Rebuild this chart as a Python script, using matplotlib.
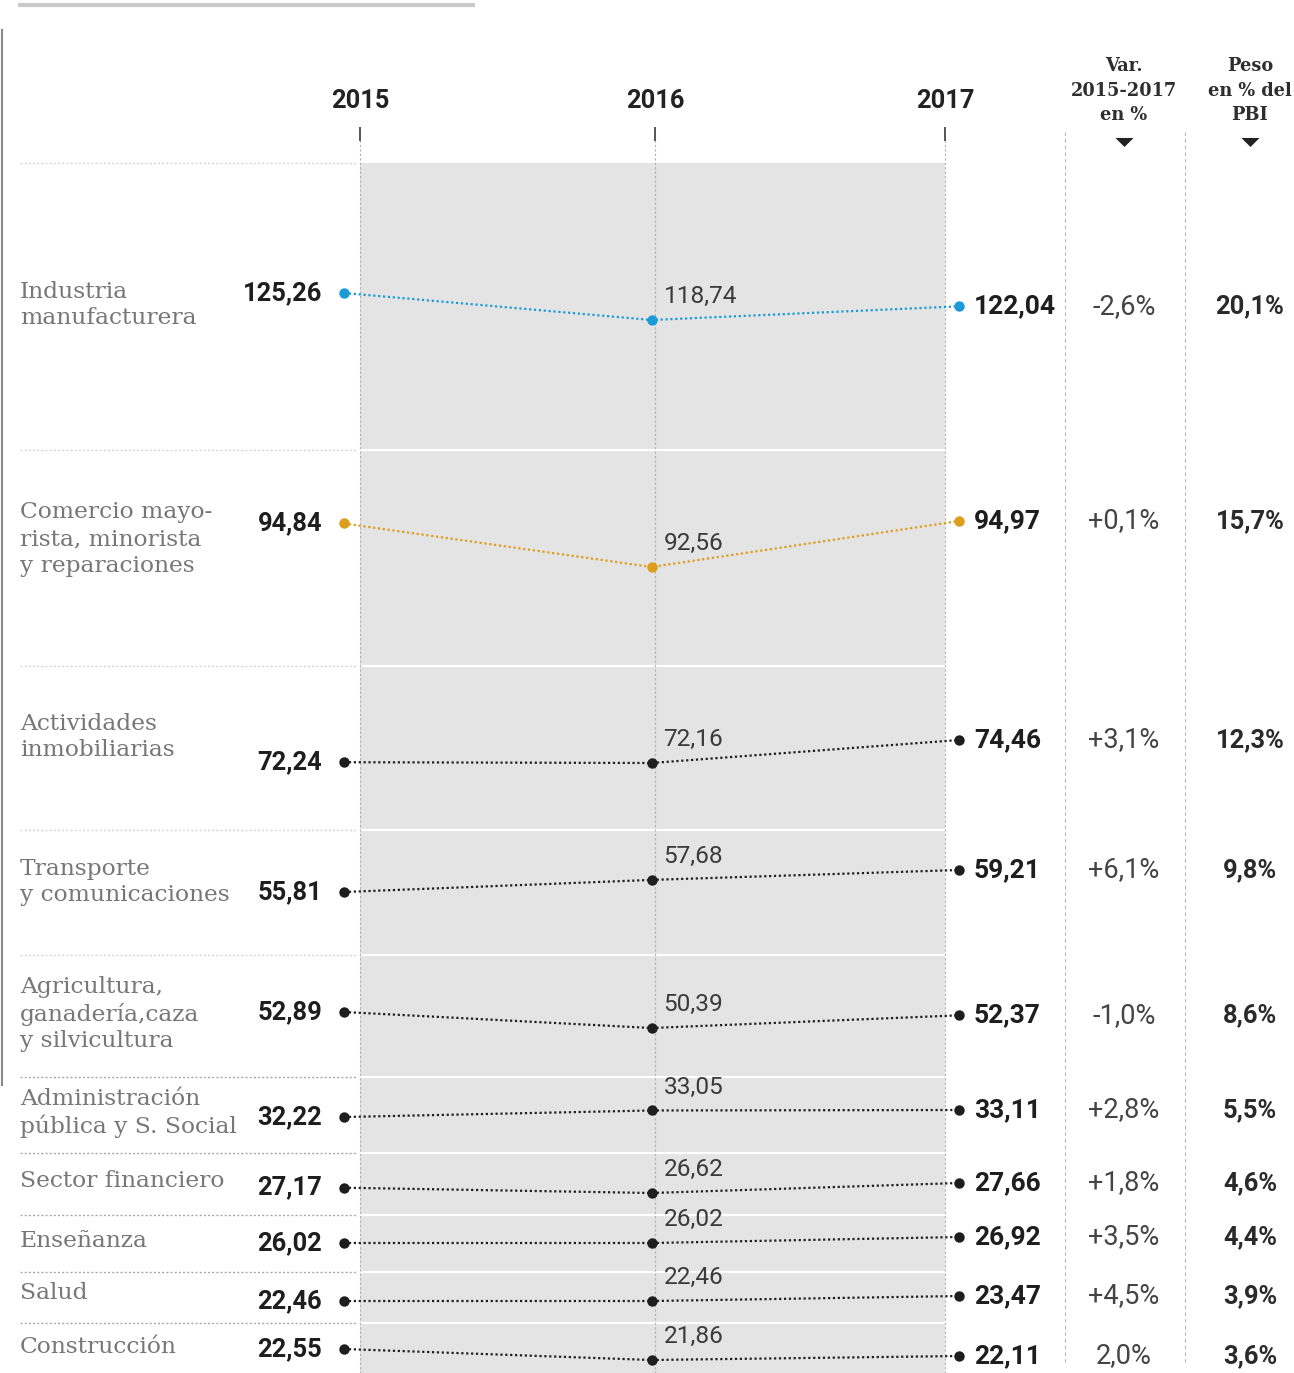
import matplotlib

matplotlib.use("Agg")
import matplotlib.pyplot as plt
from matplotlib.patches import Rectangle
from matplotlib.transforms import blended_transform_factory

# ---------------------------------------------------------------------------
# Data
# ---------------------------------------------------------------------------

years = ["2015", "2016", "2017"]

sectors = [
    "Industria\nmanufacturera",
    "Comercio mayo-\nrista, minorista\ny reparaciones",
    "Actividades\ninmobiliarias",
    "Transporte\ny comunicaciones",
    "Agricultura,\nganadería,caza\ny silvicultura",
    "Administración\npública y S. Social",
    "Sector financiero",
    "Enseñanza",
    "Salud",
    "Construcción",
]

v2015 = [125.26, 94.84, 72.24, 55.81, 52.89, 32.22, 27.17, 26.02, 22.46, 22.55]
v2016 = [118.74, 92.56, 72.16, 57.68, 50.39, 33.05, 26.62, 26.02, 22.46, 21.86]
v2017 = [122.04, 94.97, 74.46, 59.21, 52.37, 33.11, 27.66, 26.92, 23.47, 22.11]

var_pct = ["-2,6%", "+0,1%", "+3,1%", "+6,1%", "-1,0%", "+2,8%", "+1,8%", "+3,5%", "+4,5%", "2,0%"]
peso_pbi = ["20,1%", "15,7%", "12,3%", "9,8%", "8,6%", "5,5%", "4,6%", "4,4%", "3,9%", "3,6%"]

# ---------------------------------------------------------------------------
# Layout (pixels)
# ---------------------------------------------------------------------------

W, H = 1294, 1373
DPI = 100

# each row gets its own little axes: pixel of its max value / min value
row_top = [293, 521, 740, 870, 1012, 1110, 1183, 1237, 1296, 1349]
row_bot = [320, 567, 763, 892, 1028, 1117, 1193, 1243, 1301, 1360]
label_y = [305, 539, 737, 882, 1014, 1113, 1181, 1241, 1293, 1347]
row_lines = [163, 450, 666, 830, 955, 1077, 1153, 1215, 1272, 1323]

X_2015, X_2017 = 344, 959
YEAR_X = [360, 655, 945]
VAR_X, PESO_X = 1124, 1250

row_colors = ["#1d9bd7", "#dc9e1c"] + ["#1e1e1e"] * 8

SERIF = ["DejaVu Serif"]
NARROW = ["Liberation Sans Narrow", "Roboto", "DejaVu Sans"]

# wide, flat "down" arrow under the column headers
DOWN = [(-1, 0.5), (1, 0.5), (0, -0.5), (-1, 0.5)]


def fmt(v):
    return f"{v:.2f}".replace(".", ",")


fig = plt.figure(figsize=(W / DPI, H / DPI), dpi=DPI)
fig.patch.set_facecolor("white")

# background axes in pixel coordinates for the decorations
bg = fig.add_axes([0, 0, 1, 1])
bg.set_xlim(0, W)
bg.set_ylim(H, 0)
bg.axis("off")

bg.add_patch(Rectangle((360, 163), 945 - 360, H - 163, color="#e4e4e4", lw=0, zorder=0))
for y in row_lines[1:]:
    bg.plot([360, 945], [y, y], color="white", lw=1.6, zorder=1)
for i, y in enumerate(row_lines):
    bg.plot([20, 356], [y, y], color="#d6d6d6" if i < 5 else "#a8a8a8",
            lw=1.0, linestyle=(0, (1.5, 1.5)), zorder=1)

for x in YEAR_X:
    bg.plot([x, x], [140, H], color="#b0b0b0", lw=0.8, linestyle=(0, (2, 2)), zorder=1)
    bg.plot([x, x], [128, 140], color="#555555", lw=1.4, zorder=1)
for x in (1065, 1185):
    bg.plot([x, x], [132, 1362], color="#b5b5b5", lw=0.8, linestyle=(0, (3, 3)), zorder=1)

bg.plot([18, 475], [5, 5], color="#c9c9c9", lw=3, solid_capstyle="butt")
bg.plot([1.5, 1.5], [30, 1085], color="#8a8a8a", lw=1.5)

for x, yr in zip(YEAR_X, years):
    bg.text(x, 101, yr, ha="center", va="center", fontsize=18.3, fontweight="bold",
            family=NARROW, color="#222222")

for x, lines in ((VAR_X, ["Var.", "2015-2017", "en %"]), (PESO_X, ["Peso", "en % del", "PBI"])):
    for k, t in enumerate(lines):
        bg.text(x, 66 + 24.5 * k, t, ha="center", va="center", fontsize=12.8,
                fontweight="bold", family=SERIF, color="#2e2e2e")
    bg.plot([x], [142], marker=DOWN, ms=13, color="#222222", mec="none")

# ---------------------------------------------------------------------------
# Rows
# ---------------------------------------------------------------------------

for i, name in enumerate(sectors):
    vals = [v2015[i], v2016[i], v2017[i]]
    c = row_colors[i]

    bg.text(20, label_y[i], name, ha="left", va="center", fontsize=16.8,
            family=SERIF, color="#777777", linespacing=1.27)

    x0, x1 = X_2015 / W, X_2017 / W
    y0 = 1 - row_bot[i] / H
    y1 = 1 - row_top[i] / H
    ax = fig.add_axes([x0, y0, x1 - x0, y1 - y0])
    ax.patch.set_alpha(0)
    ax.axis("off")
    ax.set_xlim(0, 2)
    ax.set_ylim(min(vals), max(vals))

    ax.plot([0, 1, 2], vals, linestyle=(0, (1, 1.2)), color=c, lw=1.6, clip_on=False, zorder=3)
    ax.plot([0, 1, 2], vals, linestyle="none", marker="o", ms=7.5, color=c, mec="none",
            clip_on=False, zorder=4)

    ax.annotate(fmt(v2015[i]), (0, v2015[i]), xytext=(-22, 0), textcoords="offset pixels",
                ha="right", va="center", fontsize=18.4, fontweight="bold", family=NARROW,
                color="#1e1e1e", annotation_clip=False)
    ax.annotate(fmt(v2016[i]), (1, v2016[i]), xytext=(12, 12), textcoords="offset pixels",
                ha="left", va="bottom", fontsize=17.6, family=NARROW,
                color="#3a3a3a", annotation_clip=False)
    ax.annotate(fmt(v2017[i]), (2, v2017[i]), xytext=(15, 0), textcoords="offset pixels",
                ha="left", va="center", fontsize=19, fontweight="bold", family=NARROW,
                color="#1e1e1e", annotation_clip=False)

    tr = blended_transform_factory(fig.transFigure, ax.transData)
    ax.text(VAR_X / W, v2017[i], var_pct[i], transform=tr, ha="center", va="center",
            fontsize=19.5, family=NARROW, color="#444444", clip_on=False)
    ax.text(PESO_X / W, v2017[i], peso_pbi[i], transform=tr, ha="center", va="center",
            fontsize=18.4, fontweight="bold", family=NARROW, color="#2a2a2a", clip_on=False)

fig.savefig("out.png", dpi=DPI, facecolor="white")
